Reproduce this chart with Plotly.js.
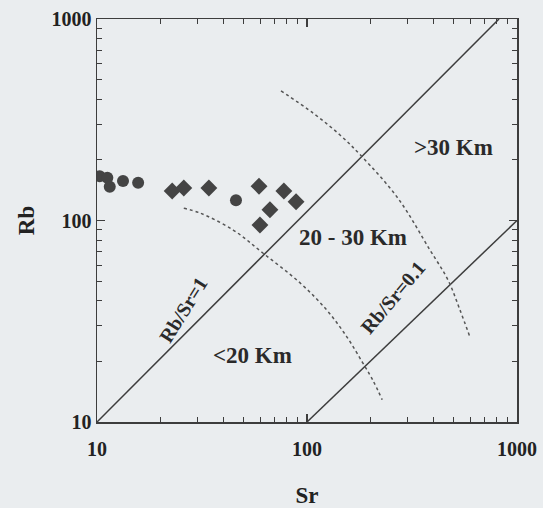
<!DOCTYPE html>
<html>
<head>
<meta charset="utf-8">
<script src="https://cdn.plot.ly/plotly-3.0.1.min.js"></script>
<style>html,body{margin:0;padding:0;background:#eaedef;}</style>
</head>
<body>
<div id="chart" style="width:543px;height:508px;"></div>
<script>
// Data (Sr, Rb in ppm)
const circleSr = [10.3, 11.2, 11.5, 13.3, 15.7, 45.9];
const circleRb = [166, 163, 147, 157, 154, 126];
const diamondSr = [22.8, 25.9, 34.1, 59.1, 66.6, 59.7, 77.6, 88.7];
const diamondRb = [140, 145, 145, 148, 113, 95, 140, 124];

// Reference lines
const ratio1Sr = [10, 821];
const ratio1Rb = [10, 1000];
const ratio01Sr = [100, 1000];
const ratio01Rb = [10, 100];

// Dotted depth boundaries
const inner20Sr = [25.9, 30.9, 44.5, 61.6, 92.7, 124, 155, 183, 206, 228];
const inner20Rb = [115, 109, 89.7, 69, 49, 36, 26.4, 19.9, 16.1, 12.9];
const outer30Sr = [75.2, 107, 144, 183, 271, 385, 469, 535, 597];
const outer30Rb = [440, 341, 265, 207, 129, 71.4, 50.7, 36, 26.4];

const tickVals = [10, 100, 1000];
const tickText = ['10', '100', '1000'];
const minorVals = [20,30,40,50,60,70,80,90,200,300,400,500,600,700,800,900];

const ink = '#3d3d3d';
const serif = 'Liberation Serif, Times New Roman, serif';

const traces = [
  {x: ratio1Sr, y: ratio1Rb, mode: 'lines', line: {color: ink, width: 1.5}},
  {x: ratio01Sr, y: ratio01Rb, mode: 'lines', line: {color: ink, width: 1.5}},
  {x: inner20Sr, y: inner20Rb, mode: 'lines', line: {color: '#555', width: 1.5, dash: 'dot', shape: 'spline'}},
  {x: outer30Sr, y: outer30Rb, mode: 'lines', line: {color: '#555', width: 1.5, dash: 'dot', shape: 'spline'}},
  {x: circleSr, y: circleRb, mode: 'markers', marker: {symbol: 'circle', size: 12, color: '#444'}},
  {x: diamondSr, y: diamondRb, mode: 'markers', marker: {symbol: 'diamond', size: 13, color: '#444'}}
];

const axisCommon = {
  type: 'log',
  range: [1, 3],
  tickmode: 'array',
  tickvals: tickVals,
  ticktext: tickText,
  ticks: 'inside',
  ticklen: 8,
  tickwidth: 1.2,
  tickcolor: ink,
  minor: {tickmode: 'array', tickvals: minorVals, ticks: 'inside', ticklen: 5, tickwidth: 1, tickcolor: ink, showgrid: false},
  showline: true,
  linecolor: ink,
  linewidth: 1.5,
  mirror: 'ticks',
  showgrid: false,
  zeroline: false,
  tickfont: {family: serif, size: 20, color: '#222', weight: 'bold'}
};

const annFont = {family: serif, size: 23, color: '#2a2a2a', weight: 'bold'};
const lblFont = {family: serif, size: 20, color: '#2a2a2a', weight: 'bold'};

function label(x, y, text, font, angle) {
  return {xref: 'paper', yref: 'paper', x: x, y: y, xanchor: 'center', yanchor: 'middle',
          text: text, showarrow: false, font: font, textangle: angle || 0};
}

const layout = {
  width: 543, height: 508,
  margin: {l: 97, r: 26, t: 19, b: 86},
  paper_bgcolor: '#eaedef',
  plot_bgcolor: '#eaedef',
  showlegend: false,
  hovermode: false,
  xaxis: Object.assign({}, axisCommon, {
    ticklabelstandoff: 8,
    title: {text: 'Sr', font: {family: serif, size: 23, color: '#222', weight: 'bold'}, standoff: 28}
  }),
  yaxis: Object.assign({}, axisCommon, {
    title: {text: 'Rb', font: {family: serif, size: 23, color: '#222', weight: 'bold'}, standoff: 10}
  }),
  annotations: [
    label(0.848, 0.682, '&gt;30 Km', annFont),
    label(0.610, 0.457, '20 - 30 Km', annFont),
    label(0.371, 0.166, '&lt;20 Km', annFont),
    label(0.205, 0.278, 'Rb/Sr=1', lblFont, -58),
    label(0.705, 0.310, 'Rb/Sr=0.1', lblFont, -50)
  ]
};

Plotly.newPlot('chart', traces, layout, {staticPlot: true, displayModeBar: false});
</script>
</body>
</html>
